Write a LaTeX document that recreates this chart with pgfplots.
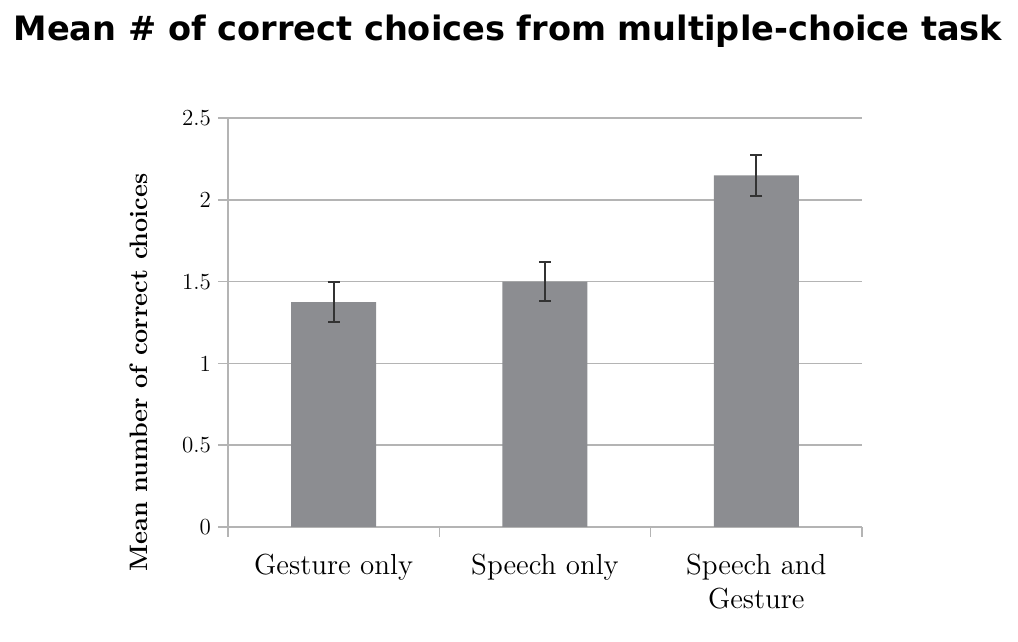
\documentclass[border=0pt]{standalone}
\usepackage{fontspec}
\newfontfamily\titlefont{DejaVu Sans}
\usepackage{pgfplots}
\pgfplotsset{compat=1.18}
\definecolor{barfill}{HTML}{8C8D91}
\definecolor{gridgray}{HTML}{B4B4B4}

\begin{document}
\begin{tikzpicture}
\begin{axis}[
  scale only axis,
  width=317pt, height=204.5pt,
  xmin=-0.5, xmax=2.5,
  ymin=0, ymax=2.5,
  ytick={0,0.5,1,1.5,2,2.5},
  yticklabels={0,0.5,1,1.5,2,2.5},
  % boundary ticks carry no label, category names sit on extra ticks
  xtick={-0.5,0.5,1.5,2.5},
  xticklabels={},
  extra x ticks={0,1,2},
  extra x tick labels={Gesture only,Speech only,{Speech and\\Gesture}},
  extra x tick style={grid=none, major tick length=0pt,
    tick label style={font=\fontsize{14.5}{17}\selectfont, align=center, yshift=-10pt}},
  y tick label style={font=\fontsize{11.5}{13}\selectfont},
  tick align=outside,
  major tick length=5pt,
  every tick/.style={draw=gridgray, line width=0.8pt},
  axis x line*=bottom,
  axis y line*=left,
  axis line style={draw=gridgray, line width=0.9pt, -},
  ymajorgrids,
  grid style={draw=gridgray, line width=0.8pt},
  ylabel={\bfseries Mean number of correct choices},
  ylabel style={font=\fontsize{12.6}{14}\selectfont, at={(axis description cs:-0.14,0.378)}, anchor=center},
  title={\titlefont\bfseries Mean \# of correct choices from multiple-choice task},
  title style={font=\fontsize{16.8}{19}\selectfont, at={(axis description cs:0.5,1)}, anchor=center, yshift=37.5pt, xshift=-18.5pt},
  ybar, bar width=42.5pt,
]
\addplot[fill=barfill, draw=none,
  error bars/.cd, y dir=both, y explicit,
  error bar style={draw=black!80, line width=1pt},
  error mark options={rotate=90, mark size=3pt, draw=black!80, line width=1pt}]
  coordinates {(0,1.375) +- (0,0.12) (1,1.50) +- (0,0.12) (2,2.15) +- (0,0.125)};
\end{axis}
\path ([shift={(-114pt,-57.5pt)}]current axis.south west) rectangle ([shift={(78pt,59pt)}]current axis.north east);
\end{tikzpicture}
\end{document}
